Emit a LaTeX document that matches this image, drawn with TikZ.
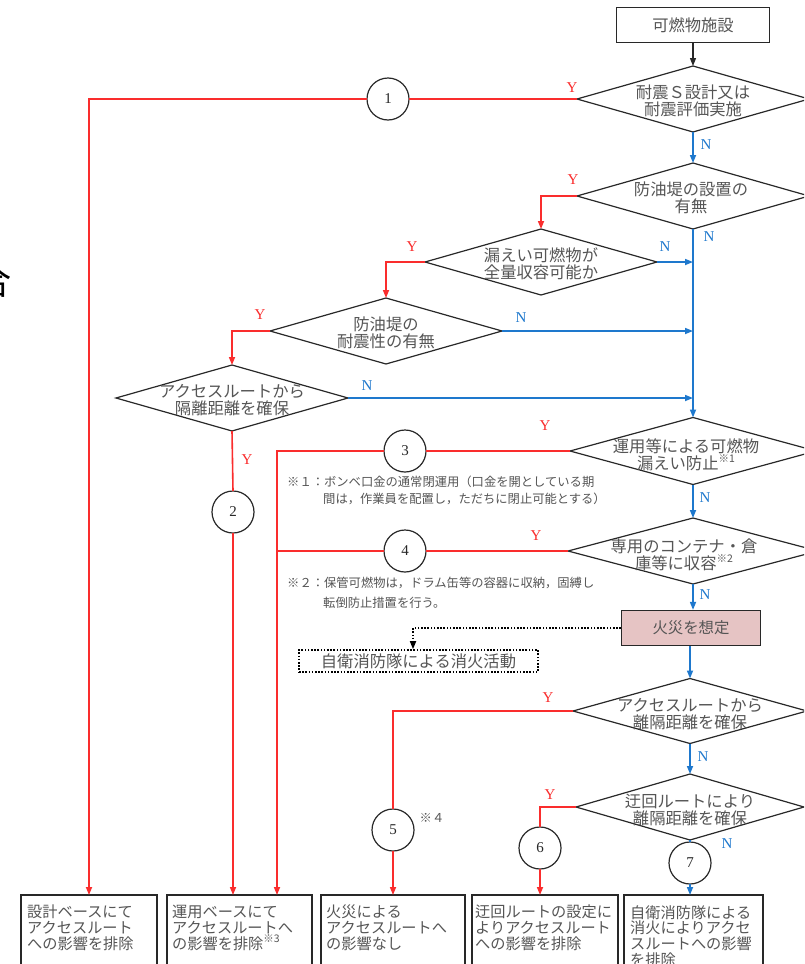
\documentclass[tikz,border=0pt]{standalone}
\usepackage{fontspec}
\setmainfont{Liberation Serif}
\newfontfamily\jp{Noto Sans CJK JP}
\usetikzlibrary{arrows.meta,calc,shapes.geometric}
\definecolor{lred}{RGB}{250,45,45}
\definecolor{lblue}{RGB}{30,120,205}
\definecolor{tgray}{RGB}{85,85,85}
\definecolor{bgray}{RGB}{40,40,40}
\definecolor{fpink}{RGB}{230,196,196}
\newcommand{\nsup}[1]{\raisebox{0.45em}{\fontsize{10.5}{10.5}\selectfont ※#1}}
\tikzset{
  dia/.style={draw=bgray, line width=1.2pt, shape=diamond, minimum width=232pt, minimum height=66pt, inner sep=0pt, outer sep=0pt},
  dtext/.style={font=\jp\fontsize{16.3}{17.5}\selectfont, text=tgray, align=center, inner sep=0pt},
  circ/.style={draw=bgray, line width=1.2pt, circle, minimum size=42pt, inner sep=0pt, outer sep=0pt, font=\fontsize{15}{15}\selectfont, text=bgray},
  rline/.style={draw=lred, line width=1.6pt},
  bline/.style={draw=lblue, line width=1.6pt},
  arr/.style={-{Triangle[length=8pt,width=6pt]}},
  ylab/.style={text=lred, font=\fontsize{15}{15}\selectfont, inner sep=0pt},
  nlab/.style={text=lblue, font=\fontsize{15}{15}\selectfont, inner sep=0pt},
  bbox/.style={draw=bgray, line width=1.2pt, anchor=north west, inner sep=0pt, outer sep=0pt, minimum height=90pt},
  btext/.style={font=\jp\fontsize{15.2}{15.8}\selectfont, text=tgray, align=left, anchor=north west, inner sep=0pt},
  note/.style={font=\jp\fontsize{12.3}{14}\selectfont, text=tgray, anchor=west, inner sep=0pt},
}
\begin{document}
\begin{tikzpicture}[x=1pt,y=-1pt]
\useasboundingbox (0,0) rectangle (804,964);
\clip (0,0) rectangle (804,964);
\fill[white] (0,0) rectangle (804,964);

% partial character at the left edge
\node[font=\jp\fontsize{36}{36}\selectfont, inner sep=0pt, text=black] (edge) at (-6,281) {合};

% top box
\node[draw=bgray, line width=1.2pt, minimum width=153pt, minimum height=35pt, inner sep=0pt, font=\jp\fontsize{16.3}{16.3}\selectfont, text=tgray] (b0) at (693,25) {可燃物施設};

% diamonds
\node[dia] (d1) at (693,99) {};
\node[dtext] (t1) at (693,101) {耐震Ｓ設計又は\\耐震評価実施};
\node[dia] (d2) at (693,196) {};
\node[dtext] (t2) at (691,198) {防油堤の設置の\\有無};
\node[dia] (d3) at (541,262) {};
\node[dtext] (t3) at (541,264) {漏えい可燃物が\\全量収容可能か};
\node[dia] (d4) at (386,331) {};
\node[dtext] (t4) at (386,333) {防油堤の\\耐震性の有無};
\node[dia] (d5) at (232,398) {};
\node[dtext] (t5) at (232,400) {アクセスルートから\\隔離距離を確保};
\node[dia, minimum width=246pt, minimum height=67pt] (d6) at (693,451) {};
\node[dtext] (t6) at (686,455) {運用等による可燃物\\漏えい防止\nsup{1}};
\node[dia, minimum width=250pt, minimum height=66pt] (d7) at (693,551) {};
\node[dtext] (t7) at (684,555) {専用のコンテナ・倉\\庫等に収容\nsup{2}};

% fire box and dotted box
\node[draw=bgray, line width=1.2pt, fill=fpink, minimum width=139pt, minimum height=35pt, inner sep=0pt, font=\jp\fontsize{15.4}{15.4}\selectfont, text=tgray] (fire) at (691,628) {火災を想定};
\node[draw=black, line width=1.6pt, dash pattern=on 1.6pt off 1.6pt, minimum width=239pt, minimum height=22pt, inner sep=0pt, font=\jp\fontsize{16.3}{16.3}\selectfont, text=tgray] (dotbox) at (418.5,661) {自衛消防隊による消火活動};

\node[dia, minimum width=234pt, minimum height=65pt] (d8) at (690,711) {};
\node[dtext] (t8) at (690,714) {アクセスルートから\\離隔距離を確保};
\node[dia, minimum width=228pt, minimum height=66pt] (d9) at (690,807) {};
\node[dtext] (t9) at (690,810) {迂回ルートにより\\離隔距離を確保};

% circles
\node[circ] (c1) at (388,99) {1};
\node[circ] (c2) at (233,512) {2};
\node[circ] (c3) at (405,451) {3};
\node[circ] (c4) at (405,551) {4};
\node[circ] (c5) at (393,830) {5};
\node[circ] (c6) at (540,848) {6};
\node[circ] (c7) at (690,863) {7};

% bottom boxes
\node[bbox, minimum width=136pt] (bA) at (21,895) {};
\node[btext] (tA) at (27,905) {設計ベースにて\\アクセスルート\\への影響を排除};
\node[bbox, minimum width=145pt] (bB) at (167,895) {};
\node[btext] (tB) at (172,905) {運用ベースにて\\アクセスルートへ\\の影響を排除\nsup{3}};
\node[bbox, minimum width=144pt] (bC) at (321,895) {};
\node[btext] (tC) at (326,905) {火災による\\アクセスルートへ\\の影響なし};
\node[bbox, minimum width=146pt] (bD) at (472,895) {};
\node[btext] (tD) at (475,905) {迂回ルートの設定に\\よりアクセスルート\\への影響を排除};
\node[bbox, minimum width=139pt] (bE) at (624,895) {};
\node[btext] (tE) at (630,905) {自衛消防隊による\\消火によりアクセ\\スルートへの影響\\を排除};

% notes
\node[note] (n1a) at (287,482) {※１：ボンベ口金の通常閉運用（口金を開としている期};
\node[note] (n1b) at (323,499) {間は，作業員を配置し，ただちに閉止可能とする）};
\node[note] (n2a) at (287,583) {※２：保管可燃物は，ドラム缶等の容器に収納，固縛し};
\node[note] (n2b) at (323,603) {転倒防止措置を行う。};
\node[note, anchor=center] (n4) at (432,818) {※４};

% connectors
\draw[draw=bgray, line width=1.2pt, arr] (b0.south) -- (d1.north);
\draw[rline] (d1.west) -- (c1.east);
\draw[rline, arr] (c1.west) -| (bA.north);
\draw[bline, arr] (d1.south) -- (d2.north);
\draw[rline, arr] (d2.west) -| (d3.north);
\draw[bline, arr] (d2.south) -- (d6.north);
\draw[bline, arr] (d3.east) -- (d3.east -| d2.south);
\draw[rline, arr] (d3.west) -| (d4.north);
\draw[bline, arr] (d4.east) -- (d4.east -| d2.south);
\draw[rline, arr] (d4.west) -| (d5.north);
\draw[bline, arr] (d5.east) -- (d5.east -| d2.south);
\draw[rline] (d5.south) -- (c2.north);
\draw[rline, arr] (c2.south) -- (c2.south |- bB.north);
\draw[rline] (d6.west) -- (c3.east);
\coordinate (j3) at (277,451);
\draw[rline, arr] (c3.west) -- (j3) -- (j3 |- bB.north);
\draw[bline, arr] (d6.south) -- (d7.north);
\draw[rline] (d7.west) -- (c4.east);
\draw[rline] (c4.west) -- (c4.west -| j3);
\draw[bline, arr] (d7.south) -- (d7.south |- fire.north);
\coordinate (dk) at (413,628);
\draw[draw=black, line width=1.6pt, dash pattern=on 1.6pt off 1.6pt, arr] (fire.west) -- (dk) -- (dk |- dotbox.north);
\draw[bline, arr] (fire.south -| d8.north) -- (d8.north);
\draw[rline] (d8.west) -| (c5.north);
\draw[rline, arr] (c5.south) -- (c5.south |- bC.north);
\draw[bline, arr] (d8.south) -- (d9.north);
\draw[rline] (d9.west) -| (c6.north);
\draw[rline, arr] (c6.south) -- (c6.south |- bD.north);
\draw[bline] (d9.south) -- (c7.north);
\draw[bline, arr] (c7.south) -- (c7.south |- bE.north);

% labels
\node[ylab] (y1) at (572,88) {Y};
\node[ylab] (y2) at (573,180) {Y};
\node[ylab] (y3) at (412,247) {Y};
\node[ylab] (y4) at (260,315) {Y};
\node[ylab] (y5) at (247,460) {Y};
\node[ylab] (y6) at (545,426) {Y};
\node[ylab] (y7) at (536,536) {Y};
\node[ylab] (y8) at (548,698) {Y};
\node[ylab] (y9) at (550,795) {Y};
\node[nlab] (m1) at (706,145) {N};
\node[nlab] (m2) at (709,237) {N};
\node[nlab] (m3) at (665,247) {N};
\node[nlab] (m4) at (521,318) {N};
\node[nlab] (m5) at (367,386) {N};
\node[nlab] (m6) at (705,498) {N};
\node[nlab] (m7) at (705,595) {N};
\node[nlab] (m8) at (703,757) {N};
\node[nlab] (m9) at (727,844) {N};
\end{tikzpicture}
\end{document}
